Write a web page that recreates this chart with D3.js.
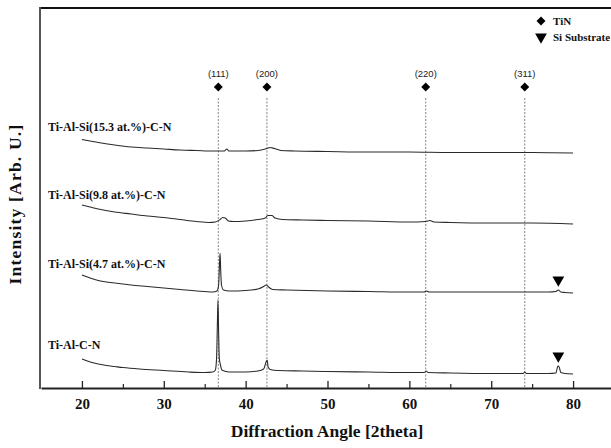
<!DOCTYPE html>
<html><head><meta charset="utf-8">
<script src="https://cdn.jsdelivr.net/npm/d3@7"></script>
<style>html,body{margin:0;padding:0;background:#fff;}svg{display:block;}</style>
</head><body><svg id="c" width="611" height="448"></svg>
<script>
// ---- data ----
const seriesNames = ["Ti-Al-Si(15.3 at.%)-C-N","Ti-Al-Si(9.8 at.%)-C-N","Ti-Al-Si(4.7 at.%)-C-N","Ti-Al-C-N"];
const s153 = [[20,248.5],[21,247],[22,245.5],[24,243],[26,241],[28,240],[30,239],[32,238],[34,237.5],[36,237],[37.4,237],[37.7,239],[37.95,237],[40,237],[41.5,237.5],[42.6,239.5],[43.0,240.5],[43.5,239.5],[44.3,237.5],[46,237],[50,236.5],[55,236],[60,236],[65,235.5],[70,235.5],[75,235.5],[80,235]];
const s98 = [[20,183],[21,181],[22,179],[24,176],[26,174],[28,172],[30,170.5],[32,168.5],[34,166.5],[35.5,165.5],[36.3,166],[36.8,168],[37.2,170.5],[37.5,170],[37.9,167],[38.5,166.5],[40,167],[41.5,168.5],[42.4,170],[42.7,172.5],[43.2,172.5],[43.6,170],[44.5,168.5],[47,168],[50,167.5],[55,167],[60,166],[62,166.5],[62.5,167.5],[63,166],[65,165.5],[70,165],[75,165],[80,164]];
const s47 = [[20,113],[21,110],[22,107.5],[24,105],[26,103],[28,101.5],[30,100],[32,98.5],[34,97],[36,96],[36.5,97],[36.7,103],[36.8,123],[36.88,135],[36.95,118],[37.05,103],[37.3,98],[38,97],[40,97.5],[41.5,99],[42.2,101.5],[42.5,103],[42.8,101],[43.3,98.5],[45,98],[50,97],[55,96.5],[60,96],[61.8,96],[62.1,97],[62.4,96],[65,96],[70,96],[74,96],[77,96],[77.9,96.5],[78.2,98],[78.5,96],[79,95.5],[80,95]];
const s00 = [[20,29],[20.5,27.5],[21,26],[22,24],[23,22.5],[24,21.5],[25,20.5],[27,19],[30,17.5],[33,16],[35,15.5],[36,16],[36.3,18],[36.45,30],[36.55,65],[36.62,88],[36.7,55],[36.78,30],[36.9,24],[37.1,18],[38,16],[40,16],[41.5,17],[42.2,19],[42.5,26],[42.62,28],[42.75,21],[43.0,18.5],[44,17.5],[47,17],[50,16.5],[55,16],[60,15.5],[61.8,15.5],[62.05,17],[62.3,15.5],[65,15],[70,14.5],[73.9,14.5],[74.1,16],[74.3,14.5],[77,14.5],[77.9,15],[78.15,22],[78.3,21],[78.5,15.5],[79,14.5],[80,14]];
const seriesData = [s153, s98, s47, s00];
const tinPeaks = [36.66, 42.6, 62.0, 74.1];
const tinLabels = ["(111)","(200)","(220)","(311)"];
const siPeak = 78.2;
const siSeries = [2, 3];
const xTicks = [20,30,40,50,60,70,80];
const xMinor = [25,35,45,55,65,75,85];
const legendItems = ["TiN","Si Substrate"];

// ---- layout ----
const svg = d3.select("#c");
const L = 41, R = 614, T = 8, B = 388;
const x = d3.scaleLinear().domain([15,85]).range([L,R]);
const y = d3.scaleLinear().domain([0,380]).range([B,T]);
const serif = "'Liberation Serif','Times New Roman',serif";
const sans = "'Liberation Sans',Arial,sans-serif";

// dashed reference lines
svg.selectAll("line.ref").data(tinPeaks).join("line")
  .attr("x1",d=>x(d)).attr("x2",d=>x(d)).attr("y1",98).attr("y2",B)
  .attr("stroke","#777").attr("stroke-width",0.9).attr("stroke-dasharray","2,1.5");

// traces
const line = d3.line().x(d=>x(d[0])).y(d=>y(d[1])).curve(d3.curveMonotoneX);
svg.selectAll("path.tr").data(seriesData).join("path")
  .attr("d",line).attr("fill","none").attr("stroke","#2a2a2a").attr("stroke-width",1.1);

// series labels
const labOff = [-9,-6,-7,-10];
svg.selectAll("text.sl").data(seriesNames).join("text")
  .attr("x",48).attr("y",(d,i)=>y(seriesData[i][0][1])+labOff[i])
  .attr("font-family",serif).attr("font-weight","bold").attr("font-size",12)
  .attr("fill","#111").text(d=>d);

// TiN markers + labels
const diamond = d3.symbol().type(d3.symbolSquare).size(40);
svg.selectAll("path.dm").data(tinPeaks).join("path")
  .attr("d",diamond).attr("transform",d=>`translate(${x(d)},87) rotate(45)`).attr("fill","#000");
svg.selectAll("text.pk").data(tinPeaks).join("text")
  .attr("x",d=>x(d)).attr("y",77).attr("text-anchor","middle")
  .attr("font-family",sans).attr("font-size",9.5).attr("fill","#222")
  .text((d,i)=>tinLabels[i]);

// Si markers
const tri = d3.symbol().type(d3.symbolTriangle).size(60);
svg.selectAll("path.si").data(siSeries).join("path")
  .attr("d",tri)
  .attr("transform",i=>{
    const pt = seriesData[i].reduce((a,b)=>Math.abs(b[0]-siPeak)<Math.abs(a[0]-siPeak)?b:a);
    return `translate(${x(siPeak)},${y(pt[1])-10}) rotate(180)`;})
  .attr("fill","#000");

// frame
svg.append("line").attr("x1",L-1).attr("x2",611).attr("y1",T).attr("y2",T).attr("stroke","#111").attr("stroke-width",2);
svg.append("line").attr("x1",L-1).attr("x2",L-1).attr("y1",T-1).attr("y2",B+1).attr("stroke","#555").attr("stroke-width",2);

// x axis
const ax = svg.append("g").attr("transform",`translate(0,${B})`)
  .call(d3.axisBottom(x).tickValues(xTicks).tickSizeInner(-7).tickSizeOuter(0).tickPadding(10).tickFormat(d3.format("d")));
ax.select(".domain").attr("stroke","#222").attr("stroke-width",2);
ax.selectAll(".tick line").attr("stroke","#222").attr("stroke-width",1.3);
ax.selectAll(".tick text").attr("font-family",serif).attr("font-weight","bold").attr("font-size",15).attr("fill","#111");
const axm = svg.append("g").attr("transform",`translate(0,${B})`)
  .call(d3.axisBottom(x).tickValues(xMinor).tickSizeInner(-4).tickSizeOuter(0).tickFormat(""));
axm.select(".domain").remove();
axm.selectAll(".tick line").attr("stroke","#222").attr("stroke-width",1.2);

// axis titles
svg.append("text").attr("x",327).attr("y",437).attr("text-anchor","middle")
  .attr("font-family",serif).attr("font-weight","bold").attr("font-size",17.5).attr("fill","#111")
  .text("Diffraction Angle [2theta]");
svg.append("text").attr("transform","translate(21,204) rotate(-90)").attr("text-anchor","middle")
  .attr("font-family",serif).attr("font-weight","bold").attr("font-size",17.5).attr("letter-spacing",1.2).attr("fill","#111")
  .text("Intensity [Arb. U.]");

// legend
const lg = svg.append("g");
lg.append("path").attr("d",diamond).attr("transform","translate(541,21) rotate(45)").attr("fill","#000");
lg.append("path").attr("d",tri).attr("transform","translate(541,37) rotate(180)").attr("fill","#000");
lg.selectAll("text").data(legendItems).join("text")
  .attr("x",553).attr("y",(d,i)=>25+i*16)
  .attr("font-family",serif).attr("font-weight","bold").attr("font-size",11).attr("fill","#111")
  .text(d=>d);
</script></body></html>
